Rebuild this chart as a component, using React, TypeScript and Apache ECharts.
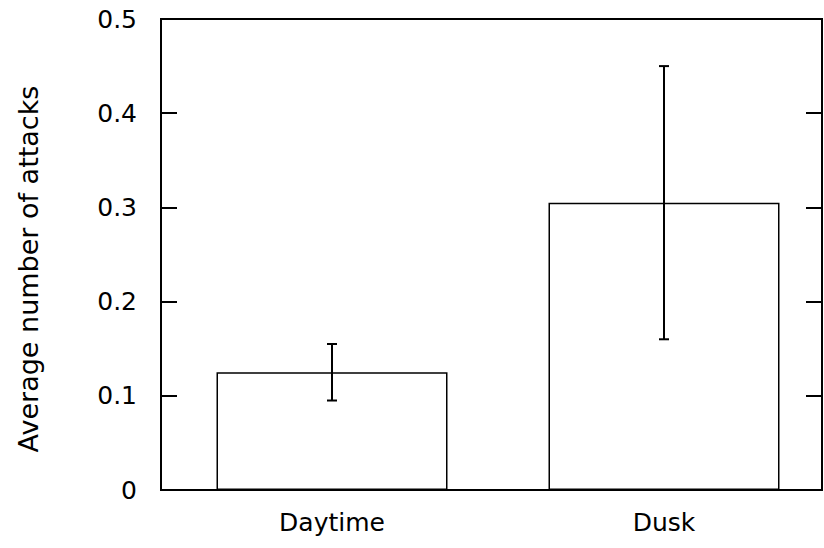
import React, { useEffect, useRef } from "react";
import * as echarts from "echarts";

const categories = ["Daytime", "Dusk"];
const means = [0.125, 0.305];
const lowerErr = [0.095, 0.16];
const upperErr = [0.155, 0.45];
const yTicks = [0, 0.1, 0.2, 0.3, 0.4, 0.5];
const yTitle = "Average number of attacks";

const FONT = "'DejaVu Sans', 'Liberation Sans', Arial, sans-serif";

export default function App() {
  const ref = useRef<HTMLDivElement>(null);
  useEffect(() => {
    if (!ref.current) return;
    const chart = echarts.init(ref.current, null, { renderer: "svg" });
    const errData = categories.map((c, i) => [i, lowerErr[i], upperErr[i]]);
    chart.setOption({
      animation: false,
      backgroundColor: "#ffffff",
      textStyle: { fontFamily: FONT, color: "#000" },
      grid: [
        {
          left: 161,
          right: 2,
          top: 19,
          bottom: 58,
          show: true,
          borderColor: "#000",
          borderWidth: 2,
          backgroundColor: "transparent",
          containLabel: false,
          outerBoundsMode: "none",
        },
        {
          left: 166,
          width: 664,
          top: 19,
          bottom: 58,
          containLabel: false,
          outerBoundsMode: "none",
        },
      ],
      xAxis: [
        {
          gridIndex: 0,
          type: "category",
          data: categories,
          axisLine: { show: false },
          axisTick: { show: false },
          axisLabel: { show: false },
          splitLine: { show: false },
        },
        {
          gridIndex: 1,
          type: "category",
          data: categories,
          axisLine: { show: false },
          axisTick: { show: false },
          splitLine: { show: false },
          axisLabel: {
            margin: 20,
            fontSize: 25,
            color: "#000",
            fontFamily: FONT,
          },
        },
      ],
      yAxis: [
        {
          gridIndex: 0,
          type: "value",
          min: yTicks[0],
          max: yTicks[yTicks.length - 1],
          interval: 0.1,
          position: "left",
          axisLine: { show: false },
          axisTick: {
            show: true,
            inside: true,
            length: 16,
            lineStyle: { color: "#000", width: 2 },
          },
          splitLine: { show: false },
          axisLabel: {
            margin: 24,
            fontSize: 25,
            color: "#000",
            fontFamily: FONT,
            formatter: (v: number) => (v === 0 ? "0" : v.toFixed(1)),
          },
        },
        {
          gridIndex: 0,
          type: "value",
          min: yTicks[0],
          max: yTicks[yTicks.length - 1],
          interval: 0.1,
          position: "right",
          axisLine: { show: false },
          axisTick: {
            show: true,
            inside: true,
            length: 16,
            lineStyle: { color: "#000", width: 2 },
          },
          splitLine: { show: false },
          axisLabel: { show: false },
        },
        {
          gridIndex: 1,
          type: "value",
          min: yTicks[0],
          max: yTicks[yTicks.length - 1],
          interval: 0.1,
          show: false,
        },
      ],
      series: [
        {
          type: "bar",
          xAxisIndex: 1,
          yAxisIndex: 2,
          data: means,
          barWidth: 231,
          itemStyle: { color: "#fff", borderColor: "#000", borderWidth: 1.5 },
          z: 2,
        },
        {
          type: "custom",
          xAxisIndex: 1,
          yAxisIndex: 2,
          data: errData,
          z: 5,
          renderItem: (params: any, api: any) => {
            const x = api.value(0);
            const lo = api.coord([x, api.value(1)]);
            const hi = api.coord([x, api.value(2)]);
            const hw = 5;
            const st = { stroke: "#000", lineWidth: 2 };
            return {
              type: "group",
              children: [
                { type: "line", shape: { x1: lo[0], y1: lo[1], x2: hi[0], y2: hi[1] }, style: st },
                { type: "line", shape: { x1: hi[0] - hw, y1: hi[1], x2: hi[0] + hw, y2: hi[1] }, style: st },
                { type: "line", shape: { x1: lo[0] - hw, y1: lo[1], x2: lo[0] + hw, y2: lo[1] }, style: st },
              ],
            };
          },
        },
      ],
      graphic: [
        {
          type: "text",
          x: 28,
          y: 269,
          rotation: Math.PI / 2,
          style: {
            text: yTitle,
            fontSize: 27,
            fontFamily: FONT,
            fill: "#000",
            align: "center",
            verticalAlign: "middle",
          },
        },
      ],
    });
    return () => chart.dispose();
  }, []);
  return (
    <div
      ref={ref}
      style={{ position: "fixed", left: 0, top: 0, width: 824, height: 548, background: "#fff" }}
    />
  );
}
